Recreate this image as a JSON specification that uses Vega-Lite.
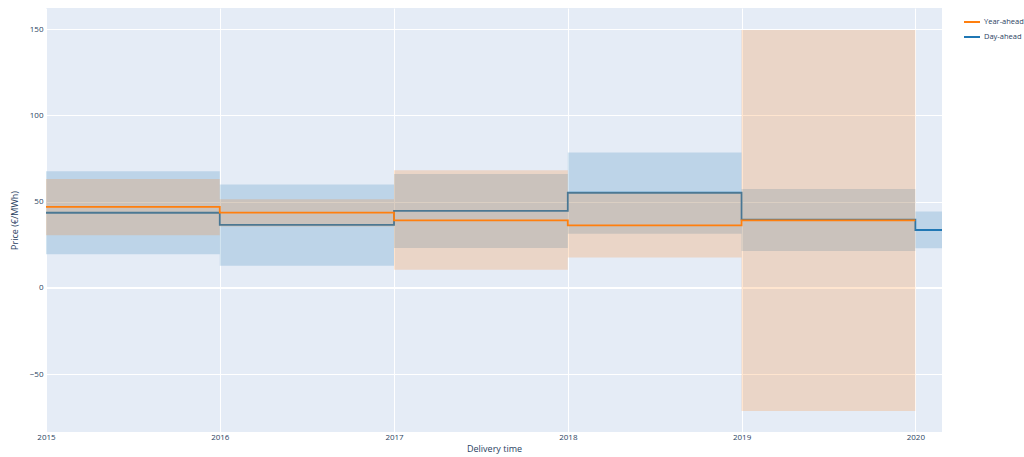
{
  "$schema": "https://vega.github.io/schema/vega-lite/v6.json",
  "width": 896,
  "height": 424,
  "autosize": {"type": "none"},
  "padding": {"left": 46, "top": 8, "right": 82, "bottom": 25},
  "background": "white",
  "config": {
    "font": "Open Sans",
    "view": {"fill": "#E5ECF6", "stroke": null},
    "axis": {"labelColor": "#2a3f5f", "titleColor": "#2a3f5f", "labelFontSize": 8, "titleFontSize": 9, "gridColor": "white", "gridWidth": 1, "domain": false, "ticks": false, "labelFont": "Open Sans", "titleFont": "Open Sans"},
    "legend": {"labelColor": "#2a3f5f", "labelFontSize": 7.5, "labelFont": "Open Sans"}
  },
  "datasets": {
    "bands": [
      {"series": "Day-ahead", "start": "2015-01-01", "end": "2016-01-01", "lo": 19.6, "hi": 67.7},
      {"series": "Day-ahead", "start": "2016-01-01", "end": "2017-01-01", "lo": 12.9, "hi": 60.0},
      {"series": "Day-ahead", "start": "2017-01-01", "end": "2018-01-01", "lo": 23.1, "hi": 66.0},
      {"series": "Day-ahead", "start": "2018-01-01", "end": "2019-01-01", "lo": 31.5, "hi": 78.6},
      {"series": "Day-ahead", "start": "2019-01-01", "end": "2020-01-01", "lo": 21.4, "hi": 57.3},
      {"series": "Day-ahead", "start": "2020-01-01", "end": "2020-02-26", "lo": 23.0, "hi": 44.3},
      {"series": "Year-ahead", "start": "2015-01-01", "end": "2016-01-01", "lo": 30.5, "hi": 63.1},
      {"series": "Year-ahead", "start": "2016-01-01", "end": "2017-01-01", "lo": 35.6, "hi": 51.5},
      {"series": "Year-ahead", "start": "2017-01-01", "end": "2018-01-01", "lo": 10.6, "hi": 68.3},
      {"series": "Year-ahead", "start": "2018-01-01", "end": "2019-01-01", "lo": 17.6, "hi": 55.6},
      {"series": "Year-ahead", "start": "2019-01-01", "end": "2020-01-01", "lo": -71.3, "hi": 149.5}
    ],
    "lines": [
      {"series": "Day-ahead", "date": "2015-01-01", "price": 43.6},
      {"series": "Day-ahead", "date": "2016-01-01", "price": 36.6},
      {"series": "Day-ahead", "date": "2017-01-01", "price": 44.7},
      {"series": "Day-ahead", "date": "2018-01-01", "price": 55.2},
      {"series": "Day-ahead", "date": "2019-01-01", "price": 39.6},
      {"series": "Day-ahead", "date": "2020-01-01", "price": 33.6},
      {"series": "Day-ahead", "date": "2020-02-26", "price": 33.6},
      {"series": "Year-ahead", "date": "2015-01-01", "price": 47.0},
      {"series": "Year-ahead", "date": "2016-01-01", "price": 43.7},
      {"series": "Year-ahead", "date": "2017-01-01", "price": 39.2},
      {"series": "Year-ahead", "date": "2018-01-01", "price": 36.3},
      {"series": "Year-ahead", "date": "2019-01-01", "price": 39.2},
      {"series": "Year-ahead", "date": "2020-01-01", "price": 39.2}
    ],
    "zero": [{"price": 0}]
  },
  "layer": [
    {
      "data": {"name": "zero"},
      "mark": {"type": "rule", "color": "white", "strokeWidth": 2},
      "encoding": {"y": {"field": "price", "type": "quantitative"}}
    },
    {
      "data": {"name": "bands"},
      "transform": [{"filter": "datum.series === 'Day-ahead'"}],
      "mark": {"type": "rect", "fill": "#1f77b4", "fillOpacity": 0.2},
      "encoding": {
        "x": {"field": "start", "type": "temporal"},
        "x2": {"field": "end"},
        "y": {"field": "lo", "type": "quantitative"},
        "y2": {"field": "hi"}
      }
    },
    {
      "data": {"name": "lines"},
      "transform": [{"filter": "datum.series === 'Day-ahead'"}],
      "mark": {"type": "line", "interpolate": "step-after", "strokeWidth": 1.8},
      "encoding": {
        "x": {"field": "date", "type": "temporal"},
        "y": {"field": "price", "type": "quantitative"},
        "color": {"field": "series", "type": "nominal"}
      }
    },
    {
      "data": {"name": "bands"},
      "transform": [{"filter": "datum.series === 'Year-ahead'"}],
      "mark": {"type": "rect", "fill": "#ff7f0e", "fillOpacity": 0.2},
      "encoding": {
        "x": {"field": "start", "type": "temporal"},
        "x2": {"field": "end"},
        "y": {"field": "lo", "type": "quantitative"},
        "y2": {"field": "hi"}
      }
    },
    {
      "data": {"name": "lines"},
      "transform": [{"filter": "datum.series === 'Year-ahead'"}],
      "mark": {"type": "line", "interpolate": "step-after", "strokeWidth": 1.8},
      "encoding": {
        "x": {
          "field": "date", "type": "temporal",
          "scale": {"type": "utc", "domain": ["2015-01-01", "2020-02-26"], "nice": false},
          "axis": {"format": "%Y", "formatType": "utc", "tickCount": {"interval": "year", "step": 1}, "labelFlush": false, "labelPadding": 1, "title": "Delivery time", "titleFontWeight": "normal", "titlePadding": 3}
        },
        "y": {
          "field": "price", "type": "quantitative",
          "scale": {"domain": [-83.5, 162.3], "nice": false, "zero": false},
          "axis": {"values": [-50, 0, 50, 100, 150], "title": "Price (€/MWh)", "titleFontWeight": "normal", "labelPadding": 3, "titlePadding": 10}
        },
        "color": {
          "field": "series", "type": "nominal",
          "scale": {"domain": ["Year-ahead", "Day-ahead"], "range": ["#ff7f0e", "#1f77b4"]},
          "legend": {"title": null, "orient": "none", "legendX": 917, "legendY": 5, "symbolType": "stroke", "symbolSize": 256, "symbolStrokeWidth": 2, "rowPadding": 2, "labelOffset": 3}
        }
      }
    }
  ]
}
